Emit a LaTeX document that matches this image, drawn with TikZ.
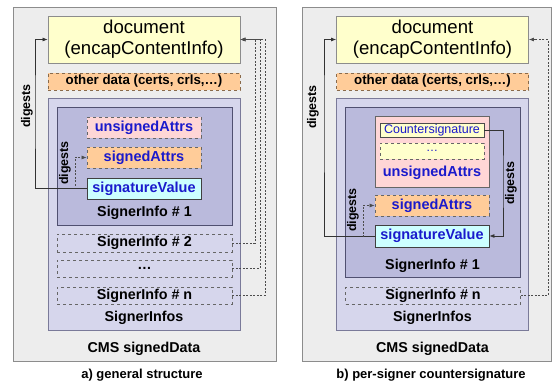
\documentclass[tikz,border=0pt]{standalone}
\usepackage{fontspec}
\setmainfont{Liberation Sans}
\usetikzlibrary{arrows.meta}
\definecolor{outerfill}{HTML}{EDEDED}
\definecolor{outerdraw}{HTML}{8C8C8C}
\definecolor{docfill}{HTML}{FFFFCC}
\definecolor{orangefill}{HTML}{FFCC99}
\definecolor{orangedraw}{HTML}{8A6A4A}
\definecolor{infosfill}{HTML}{D6D6EC}
\definecolor{infosdraw}{HTML}{7A7A99}
\definecolor{infofill}{HTML}{BABADC}
\definecolor{infodraw}{HTML}{505070}
\definecolor{pinkfill}{HTML}{FFD6D6}
\definecolor{cyanfill}{HTML}{CCFFFF}
\definecolor{bluetext}{HTML}{1A1ACC}
\tikzset{
  rbox/.style={draw, rectangle, inner sep=0pt, line width=0.8pt},
  outerbox/.style={rbox, draw=outerdraw, fill=outerfill},
  docbox/.style={rbox, draw=outerdraw, fill=docfill, align=center, font=\fontsize{18.6}{21}\selectfont},
  otherbox/.style={rbox, draw=orangedraw, fill=orangefill, dashed, font=\fontsize{13.3}{15}\selectfont\bfseries},
  infosbox/.style={rbox, draw=infosdraw, fill=infosfill},
  infobox/.style={rbox, draw=infodraw, fill=infofill},
  attrbox/.style={rbox, draw=black!60, dashed, text=bluetext, font=\fontsize{14.5}{16}\selectfont\bfseries},
  svbox/.style={rbox, draw=black!75, fill=cyanfill, text=bluetext, font=\fontsize{14.5}{16}\selectfont\bfseries},
  sibox/.style={rbox, draw=black!60, dashed, font=\fontsize{14.3}{16}\selectfont\bfseries},
  lbl/.style={inner sep=0pt, font=\fontsize{14.3}{16}\selectfont\bfseries},
  captext/.style={inner sep=0pt, font=\fontsize{13}{15}\selectfont\bfseries},
  dig/.style={inner sep=0pt, rotate=90, font=\fontsize{12.5}{14}\selectfont\bfseries},
  arr/.style={-{Latex[length=5pt,width=4pt]}, line width=0.7pt, black!80},
  dotline/.style={arr, dash pattern=on 2pt off 1.5pt, black!70},
}
\begin{document}
\begin{tikzpicture}[x=1pt,y=-1pt]
\useasboundingbox (0,0) rectangle (552,385);
% ---------- panel a ----------
\node[outerbox, minimum width=263, minimum height=354] (outA) at (144.5,184) {};
\node[docbox, minimum width=192, minimum height=47] (docA) at (144,39.5) {document\\(encapContentInfo)};
\node[otherbox, minimum width=192, minimum height=17] (othA) at (144,81.5) {other data (certs, crls,\dots)};
\node[infosbox, minimum width=192, minimum height=232] (sisA) at (144,214) {};
\node[infobox, minimum width=175, minimum height=118] (si1A) at (144.5,166) {};
\node[attrbox, fill=pinkfill, minimum width=114, minimum height=21] (unsA) at (144,127.5) {unsignedAttrs};
\node[attrbox, fill=orangefill, minimum width=114, minimum height=21] (sigA) at (144,157.5) {signedAttrs};
\node[svbox, minimum width=114, minimum height=21] (svA) at (144,188.5) {signatureValue};
\node[lbl] (si1lA) at (144.5,213) {SignerInfo \# 1};
\node[sibox, minimum width=175, minimum height=18] (si2A) at (144.5,243) {SignerInfo \# 2};
\node[sibox, minimum width=175, minimum height=17] (sidA) at (144.5,268.5) {\dots};
\node[sibox, minimum width=175, minimum height=17] (sinA) at (144.5,295.5) {SignerInfo \# n};
\node[lbl] (sislA) at (144,318) {SignerInfos};
\node[lbl] (cmsA) at (144,349) {CMS signedData};
\node[captext] (capA) at (142,375) {a) general structure};
\node[dig] (dgA) at (27,106) {digests};
\node[dig] (dgiA) at (65,163) {digests};
\coordinate (la) at (35,110);
\coordinate (ia) at (75,186);
\coordinate (ra1) at (255,39.5);
\coordinate (ra2) at (260,39.5);
\coordinate (ra3) at (265,39.5);
\draw[arr] (svA.west) -| (la) |- (docA.west);
\draw[dotline] (ia) |- (sigA.west);
\draw[dotline] (si2A.east) -| (ra1) -- (docA.east);
\draw[dotline] (sidA.east) -| (ra2) -- (docA.east);
\draw[dotline] (sinA.east) -| (ra3) -- (docA.east);
% ---------- panel b ----------
\node[outerbox, minimum width=249.5, minimum height=354] (outB) at (426.75,184) {};
\node[docbox, minimum width=192, minimum height=47] (docB) at (432.5,39.5) {document\\(encapContentInfo)};
\node[otherbox, minimum width=192, minimum height=17] (othB) at (432.5,81.5) {other data (certs, crls,\dots)};
\node[infosbox, minimum width=192, minimum height=232] (sisB) at (432.5,214) {};
\node[infobox, minimum width=175, minimum height=170] (si1B) at (433,192) {};
\node[rbox, draw=black!60, fill=pinkfill, minimum width=114, minimum height=71] (unsB) at (432,151.5) {};
\node[rbox, draw=black!70, fill=docfill, text=bluetext, font=\fontsize{12.5}{14}\selectfont, minimum width=104, minimum height=14] (csB) at (432,130) {Countersignature};
\node[rbox, draw=black!60, dashed, fill=docfill, text=bluetext, font=\fontsize{12}{14}\selectfont, minimum width=104, minimum height=16] (dotB) at (432,151) {\dots};
\node[inner sep=0pt, text=bluetext, font=\fontsize{14.5}{16}\selectfont\bfseries] (unslB) at (432,173) {unsignedAttrs};
\node[attrbox, fill=orangefill, minimum width=114, minimum height=21] (sigB) at (432,205.5) {signedAttrs};
\node[svbox, minimum width=114, minimum height=22] (svB) at (432,236) {signatureValue};
\node[lbl] (si1lB) at (432.5,266) {SignerInfo \# 1};
\node[sibox, minimum width=175, minimum height=17] (sinB) at (433,295.5) {SignerInfo \# n};
\node[lbl] (sislB) at (432.5,318) {SignerInfos};
\node[lbl] (cmsB) at (432.5,349) {CMS signedData};
\node[captext] (capB) at (431,375) {b) per-signer countersignature};
\node[dig] (dgB) at (313,107) {digests};
\node[dig] (dgiB) at (353,210) {digests};
\node[dig] (dgrB) at (511,183) {digests};
\coordinate (lb) at (324,110);
\coordinate (ib) at (363,237);
\coordinate (rb) at (503,180);
\coordinate (rbb) at (548,39.5);
\draw[arr] (svB.west) -| (lb) |- (docB.west);
\draw[dotline] (ib) |- (sigB.west);
\draw[arr] (csB.east) -| (rb) |- (svB.east);
\draw[dotline] (sinB.east) -| (rbb) -- (docB.east);
\end{tikzpicture}
\end{document}
